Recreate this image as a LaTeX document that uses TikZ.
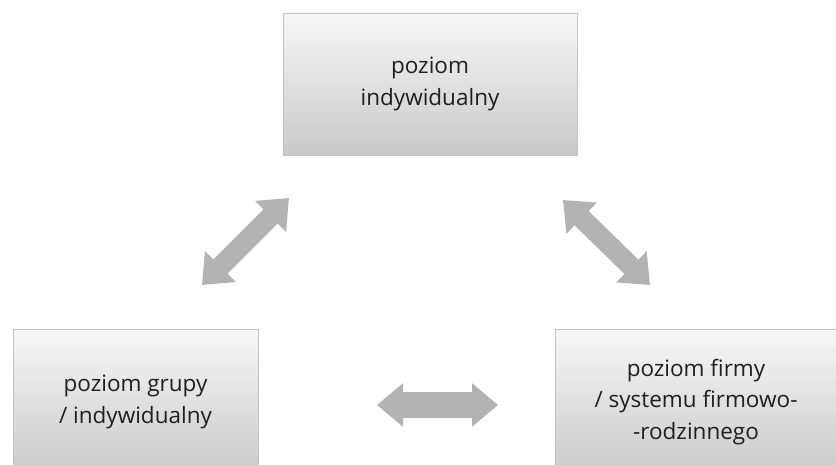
\documentclass[tikz,border=0pt]{standalone}
\usepackage{fontspec}
\setmainfont{Open Sans}
\usetikzlibrary{arrows.meta}
\definecolor{arrowgray}{HTML}{B3B3B3}
\definecolor{boxline}{HTML}{C4C4C4}
\definecolor{txt}{HTML}{1F1F1F}
\begin{document}
\begin{tikzpicture}[x=1pt,y=-1pt,
  level/.style={draw=boxline, line width=0.9pt, top color=white!97!black, bottom color=black!21,
    align=center, font=\fontsize{22.5}{31.5}\selectfont, text=txt, inner sep=0pt},
  fatarrow/.style={draw=arrowgray, line width=#1,
    {Triangle[length=26pt,width=42pt]}-{Triangle[length=26pt,width=42pt]}}]
\useasboundingbox (0,0) rectangle (836,465);
\begin{scope}
\clip (0,0) rectangle (836,465);
\node[level, minimum width=294pt, minimum height=142pt] (ind) at (430,84) {poziom\\indywidualny};
\node[level, minimum width=245pt, minimum height=146pt] (grp) at (135.5,402) {poziom grupy\\/ indywidualny};
\node[level, minimum width=282pt, minimum height=146pt] (firm) at (696,402) {poziom firmy\\/ systemu firmowo-\\-rodzinnego};
\end{scope}
\coordinate (a1) at (202,285);
\coordinate (a2) at (289,198);
\coordinate (b1) at (563,200);
\coordinate (b2) at (650,285);
\coordinate (c1) at (377,405);
\coordinate (c2) at (498,405);
\draw[fatarrow=20pt] (a1) -- (a2);
\draw[fatarrow=20pt] (b1) -- (b2);
\draw[fatarrow=26pt] (c1) -- (c2);
\end{tikzpicture}
\end{document}
